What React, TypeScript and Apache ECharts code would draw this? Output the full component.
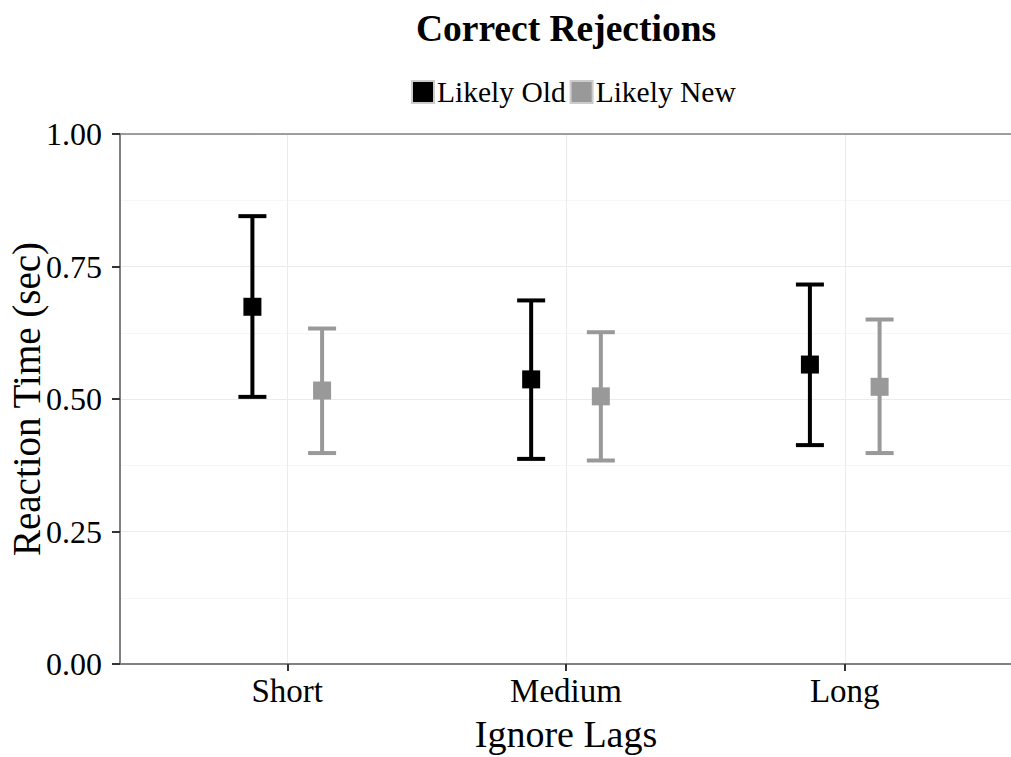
import React, { useEffect, useRef } from "react";
import * as echarts from "echarts";

const categories = ["Short", "Medium", "Long"];
const seriesNames = ["Likely Old", "Likely New"];
const oldMean = [0.674, 0.537, 0.565];
const oldLower = [0.504, 0.387, 0.413];
const oldUpper = [0.845, 0.686, 0.716];
const newMean = [0.516, 0.505, 0.523];
const newLower = [0.398, 0.384, 0.398];
const newUpper = [0.633, 0.626, 0.65];
const yTicks = [0, 0.25, 0.5, 0.75, 1];

const FONT = "'Liberation Serif', 'DejaVu Serif', serif";
const COLORS = ["#000000", "#999999"];
const DODGE = 0.125;

export default function App() {
  const ref = useRef<HTMLDivElement>(null);
  useEffect(() => {
    if (!ref.current) return;
    const chart = echarts.init(ref.current, null, { renderer: "svg" });
    const groups = [
      { name: seriesNames[0], mean: oldMean, lo: oldLower, hi: oldUpper, off: -DODGE, color: COLORS[0] },
      { name: seriesNames[1], mean: newMean, lo: newLower, hi: newUpper, off: DODGE, color: COLORS[1] },
    ];
    const series: any[] = [];
    groups.forEach((g) => {
      series.push({
        type: "custom",
        name: g.name,
        silent: true,
        data: categories.map((_, i) => [i + 1 + g.off, g.lo[i], g.hi[i]]),
        renderItem: (params: any, api: any) => {
          const x = api.value(0);
          const top = api.coord([x, api.value(2)]);
          const bot = api.coord([x, api.value(1)]);
          const hw = 14;
          const st = { stroke: g.color, lineWidth: 4 };
          return {
            type: "group",
            children: [
              { type: "line", shape: { x1: top[0], y1: top[1], x2: bot[0], y2: bot[1] }, style: st },
              { type: "line", shape: { x1: top[0] - hw, y1: top[1], x2: top[0] + hw, y2: top[1] }, style: st },
              { type: "line", shape: { x1: bot[0] - hw, y1: bot[1], x2: bot[0] + hw, y2: bot[1] }, style: st },
            ],
          };
        },
        z: 2,
      });
      series.push({
        type: "scatter",
        name: g.name,
        symbol: "rect",
        symbolSize: 18,
        itemStyle: { color: g.color, opacity: 1 },
        data: categories.map((_, i) => [i + 1 + g.off, g.mean[i]]),
        z: 3,
      });
    });

    chart.setOption({
      animation: false,
      title: {
        text: "Correct Rejections",
        left: 561,
        textAlign: "center",
        top: 4,
        textStyle: { fontFamily: FONT, fontWeight: "bold", fontSize: 37.5, color: "#000" },
      },
      legend: {
        top: 72,
        left: 406,
        itemWidth: 22,
        itemHeight: 22,
        itemGap: 4,
        selectedMode: false,
        data: seriesNames.map((n, i) => ({
          name: n,
          icon: "rect",
          itemStyle: { color: COLORS[i], borderColor: "#cccccc", borderWidth: 2, opacity: 1 },
        })),
        textStyle: { fontFamily: FONT, fontSize: 29.5, color: "#000", padding: [0, 0, 0, -2] },
      },
      grid: { left: 120, top: 134, width: 892, height: 530, containLabel: false, outerBoundsMode: "none" },
      xAxis: [
        {
          type: "value",
          min: 0.4,
          max: 3.6,
          name: "Ignore Lags",
          nameLocation: "middle",
          nameGap: 51,
          nameMoveOverlap: false,
          nameTextStyle: { fontFamily: FONT, fontSize: 38, color: "#000" },
          axisLine: { show: true, onZero: false, lineStyle: { color: "#808080", width: 2 } },
          axisTick: { show: true, length: 7, customValues: [1, 2, 3], lineStyle: { color: "#333", width: 2 } },
          axisLabel: {
            customValues: [1, 2, 3],
            margin: 10,
            fontFamily: FONT,
            fontSize: 33,
            color: "#000",
            formatter: (v: number) => categories[Math.round(v) - 1] ?? "",
          },
          splitLine: { show: true, lineStyle: { color: "#ebebeb", width: 1 } },
        },
        {
          type: "value",
          position: "top",
          min: 0.4,
          max: 3.6,
          axisLine: { show: true, onZero: false, lineStyle: { color: "#808080", width: 1.5 } },
          axisTick: { show: false },
          axisLabel: { show: false },
          splitLine: { show: false },
        },
      ],
      yAxis: {
        type: "value",
        min: 0,
        max: 1,
        interval: 0.25,
        name: "Reaction Time (sec)",
        nameLocation: "middle",
        nameGap: 74,
        nameMoveOverlap: false,
        nameTextStyle: { fontFamily: FONT, fontSize: 39, color: "#000" },
        axisLine: { show: true, onZero: false, lineStyle: { color: "#808080", width: 2 } },
        axisTick: { show: true, length: 8, lineStyle: { color: "#333", width: 2 } },
        axisLabel: {
          margin: 18,
          fontFamily: FONT,
          fontSize: 32,
          color: "#000",
          formatter: (v: number) => (yTicks.includes(v) ? v.toFixed(2) : ""),
        },
        splitLine: { show: true, lineStyle: { color: "#ebebeb", width: 1 } },
        minorTick: { show: false, splitNumber: 2 },
        minorSplitLine: { show: true, lineStyle: { color: "#f6f6f6", width: 1 } },
      },
      series,
    });
    return () => chart.dispose();
  }, []);
  return (
    <div
      ref={ref}
      style={{ position: "fixed", left: 0, top: 0, width: 1011, height: 757, background: "#fff" }}
    />
  );
}
